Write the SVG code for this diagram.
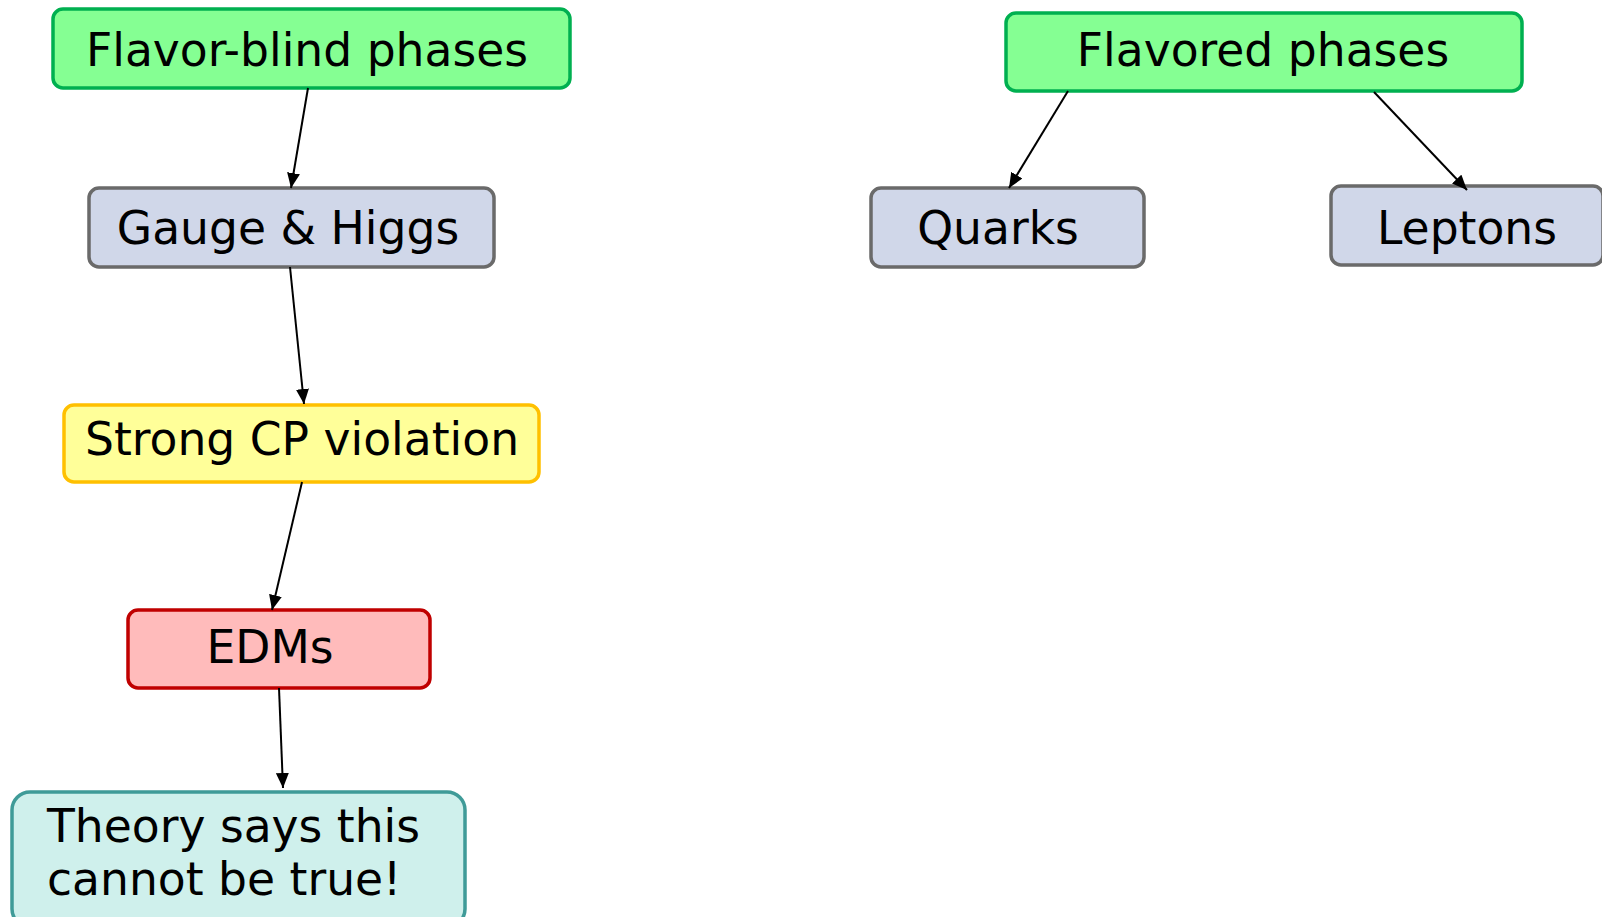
<svg xmlns="http://www.w3.org/2000/svg" width="1602" height="917" viewBox="0 0 1602 917">
  <style>
    .box { stroke-width: 3.5; }
    .green { fill: #85ff93; stroke: #00b050; }
    .grey { fill: #d0d7e9; stroke: #6a6a6a; }
    .yellow { fill: #ffff99; stroke: #ffc000; }
    .red { fill: #ffbbbb; stroke: #c00000; }
    .teal { fill: #cff0ec; stroke: #3f9b98; }
    .label { font-family: "DejaVu Sans", Verdana, sans-serif; font-size: 45.6px; fill: #000; }
    .edge { stroke: #000; stroke-width: 2; fill: none; marker-end: url(#arrow); }
  </style>
  <defs>
    <marker id="arrow" viewBox="0 0 15 13" refX="15" refY="6.5" markerWidth="15" markerHeight="13" markerUnits="userSpaceOnUse" orient="auto">
      <path d="M0,0 L15,6.5 L0,13 Z" fill="#000"/>
    </marker>
  </defs>
  <rect width="1602" height="917" fill="#fff"/>

  <g id="flavor-blind">
    <rect class="box green" x="53" y="9" width="517" height="79" rx="10"/>
    <text class="label" x="307" y="66" text-anchor="middle">Flavor-blind phases</text>
  </g>
  <g id="gauge-higgs">
    <rect class="box grey" x="89" y="188" width="405" height="79" rx="10"/>
    <text class="label" x="288" y="244" text-anchor="middle">Gauge &amp; Higgs</text>
  </g>
  <g id="strong-cp">
    <rect class="box yellow" x="64" y="405" width="475" height="77" rx="10"/>
    <text class="label" x="302" y="455" text-anchor="middle">Strong CP violation</text>
  </g>
  <g id="edms">
    <rect class="box red" x="128" y="610" width="302" height="78" rx="10"/>
    <text class="label" x="270" y="663" text-anchor="middle">EDMs</text>
  </g>
  <g id="theory">
    <rect class="box teal" x="12" y="792" width="453" height="135" rx="18"/>
    <text class="label" x="47" y="842">Theory says this</text>
    <text class="label" x="47" y="895">cannot be true!</text>
  </g>
  <g id="flavored">
    <rect class="box green" x="1006" y="13" width="516" height="78" rx="10"/>
    <text class="label" x="1263" y="66" text-anchor="middle">Flavored phases</text>
  </g>
  <g id="quarks">
    <rect class="box grey" x="871" y="188" width="273" height="79" rx="10"/>
    <text class="label" x="998" y="244" text-anchor="middle">Quarks</text>
  </g>
  <g id="leptons">
    <rect class="box grey" x="1331" y="186" width="272" height="79" rx="10"/>
    <text class="label" x="1467" y="244" text-anchor="middle">Leptons</text>
  </g>

  <g id="connectors">
    <line class="edge" x1="308" y1="88" x2="291" y2="188"/>
    <line class="edge" x1="290" y1="267" x2="304" y2="404"/>
    <line class="edge" x1="302" y1="482" x2="272" y2="610"/>
    <line class="edge" x1="279" y1="688" x2="283" y2="788"/>
    <line class="edge" x1="1068" y1="91" x2="1009" y2="188"/>
    <line class="edge" x1="1374" y1="92" x2="1467" y2="190"/>
  </g>
</svg>
